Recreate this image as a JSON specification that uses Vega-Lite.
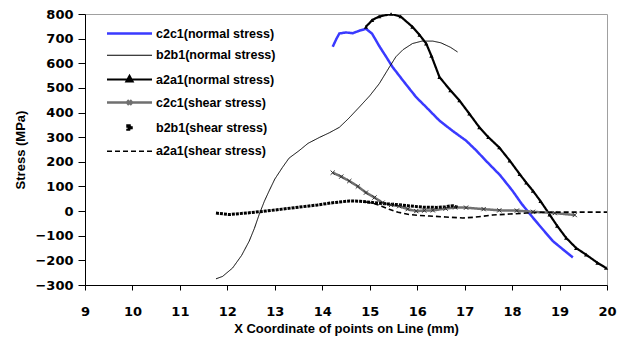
{
  "$schema": "https://vega.github.io/schema/vega-lite/v6.json",
  "width": 522,
  "height": 271,
  "autosize": "none",
  "padding": {"left": 85, "top": 14, "right": 10, "bottom": 60},
  "config": {
    "font": "Liberation Sans",
    "view": {"stroke": "#a0a0a0", "strokeWidth": 1},
    "axis": {
      "grid": false,
      "domainColor": "black",
      "tickColor": "black",
      "labelColor": "black",
      "titleColor": "black",
      "labelFont": "DejaVu Sans",
      "titleFont": "Liberation Sans",
      "labelFontWeight": "bold",
      "titleFontWeight": "bold",
      "labelFontSize": 13,
      "titleFontSize": 13
    },
    "legend": {
      "labelFont": "Liberation Sans",
      "labelFontWeight": "bold",
      "labelFontSize": 12.5,
      "labelColor": "black"
    }
  },
  "data": {
    "values": [
      {"s": "c2c1(normal stress)", "x": 14.22, "y": 667},
      {"s": "c2c1(normal stress)", "x": 14.3, "y": 700},
      {"s": "c2c1(normal stress)", "x": 14.36, "y": 721},
      {"s": "c2c1(normal stress)", "x": 14.5, "y": 725},
      {"s": "c2c1(normal stress)", "x": 14.64, "y": 722},
      {"s": "c2c1(normal stress)", "x": 14.78, "y": 732},
      {"s": "c2c1(normal stress)", "x": 14.92, "y": 740},
      {"s": "c2c1(normal stress)", "x": 15.05, "y": 720},
      {"s": "c2c1(normal stress)", "x": 15.2, "y": 670},
      {"s": "c2c1(normal stress)", "x": 15.35, "y": 625},
      {"s": "c2c1(normal stress)", "x": 15.48, "y": 585},
      {"s": "c2c1(normal stress)", "x": 15.7, "y": 530},
      {"s": "c2c1(normal stress)", "x": 15.98, "y": 462},
      {"s": "c2c1(normal stress)", "x": 16.2, "y": 420},
      {"s": "c2c1(normal stress)", "x": 16.47, "y": 367},
      {"s": "c2c1(normal stress)", "x": 16.75, "y": 325},
      {"s": "c2c1(normal stress)", "x": 17.03, "y": 286},
      {"s": "c2c1(normal stress)", "x": 17.25, "y": 245},
      {"s": "c2c1(normal stress)", "x": 17.45, "y": 204},
      {"s": "c2c1(normal stress)", "x": 17.75, "y": 145},
      {"s": "c2c1(normal stress)", "x": 18.01, "y": 82},
      {"s": "c2c1(normal stress)", "x": 18.2, "y": 30},
      {"s": "c2c1(normal stress)", "x": 18.44, "y": -27},
      {"s": "c2c1(normal stress)", "x": 18.65, "y": -75},
      {"s": "c2c1(normal stress)", "x": 18.86, "y": -122},
      {"s": "c2c1(normal stress)", "x": 19.1, "y": -160},
      {"s": "c2c1(normal stress)", "x": 19.28, "y": -188},

      {"s": "b2b1(normal stress)", "x": 11.76, "y": -275},
      {"s": "b2b1(normal stress)", "x": 11.9, "y": -265},
      {"s": "b2b1(normal stress)", "x": 12.11, "y": -231},
      {"s": "b2b1(normal stress)", "x": 12.3, "y": -180},
      {"s": "b2b1(normal stress)", "x": 12.46, "y": -122},
      {"s": "b2b1(normal stress)", "x": 12.57, "y": -70},
      {"s": "b2b1(normal stress)", "x": 12.67, "y": -14},
      {"s": "b2b1(normal stress)", "x": 12.78, "y": 40},
      {"s": "b2b1(normal stress)", "x": 12.88, "y": 82},
      {"s": "b2b1(normal stress)", "x": 13.0, "y": 130},
      {"s": "b2b1(normal stress)", "x": 13.16, "y": 177},
      {"s": "b2b1(normal stress)", "x": 13.3, "y": 215},
      {"s": "b2b1(normal stress)", "x": 13.51, "y": 245},
      {"s": "b2b1(normal stress)", "x": 13.7, "y": 275},
      {"s": "b2b1(normal stress)", "x": 13.94, "y": 299},
      {"s": "b2b1(normal stress)", "x": 14.15, "y": 318},
      {"s": "b2b1(normal stress)", "x": 14.36, "y": 340},
      {"s": "b2b1(normal stress)", "x": 14.55, "y": 375},
      {"s": "b2b1(normal stress)", "x": 14.78, "y": 422},
      {"s": "b2b1(normal stress)", "x": 15.0, "y": 468},
      {"s": "b2b1(normal stress)", "x": 15.2, "y": 517},
      {"s": "b2b1(normal stress)", "x": 15.4, "y": 580},
      {"s": "b2b1(normal stress)", "x": 15.55, "y": 626},
      {"s": "b2b1(normal stress)", "x": 15.7, "y": 655},
      {"s": "b2b1(normal stress)", "x": 15.9, "y": 680},
      {"s": "b2b1(normal stress)", "x": 16.1, "y": 690},
      {"s": "b2b1(normal stress)", "x": 16.33, "y": 690},
      {"s": "b2b1(normal stress)", "x": 16.5, "y": 683},
      {"s": "b2b1(normal stress)", "x": 16.7, "y": 665},
      {"s": "b2b1(normal stress)", "x": 16.85, "y": 646},

      {"s": "a2a1(normal stress)", "x": 14.92, "y": 748},
      {"s": "a2a1(normal stress)", "x": 15.05, "y": 775},
      {"s": "a2a1(normal stress)", "x": 15.2, "y": 790},
      {"s": "a2a1(normal stress)", "x": 15.45, "y": 800},
      {"s": "a2a1(normal stress)", "x": 15.65, "y": 790},
      {"s": "a2a1(normal stress)", "x": 15.9, "y": 748},
      {"s": "a2a1(normal stress)", "x": 16.05, "y": 715},
      {"s": "a2a1(normal stress)", "x": 16.19, "y": 680},
      {"s": "a2a1(normal stress)", "x": 16.3, "y": 630},
      {"s": "a2a1(normal stress)", "x": 16.47, "y": 544},
      {"s": "a2a1(normal stress)", "x": 16.7, "y": 490},
      {"s": "a2a1(normal stress)", "x": 16.89, "y": 449},
      {"s": "a2a1(normal stress)", "x": 17.1, "y": 395},
      {"s": "a2a1(normal stress)", "x": 17.31, "y": 340},
      {"s": "a2a1(normal stress)", "x": 17.5, "y": 300},
      {"s": "a2a1(normal stress)", "x": 17.73, "y": 258},
      {"s": "a2a1(normal stress)", "x": 17.95, "y": 205},
      {"s": "a2a1(normal stress)", "x": 18.16, "y": 150},
      {"s": "a2a1(normal stress)", "x": 18.3, "y": 115},
      {"s": "a2a1(normal stress)", "x": 18.44, "y": 82},
      {"s": "a2a1(normal stress)", "x": 18.6, "y": 40},
      {"s": "a2a1(normal stress)", "x": 18.79, "y": -14},
      {"s": "a2a1(normal stress)", "x": 18.95, "y": -60},
      {"s": "a2a1(normal stress)", "x": 19.14, "y": -109},
      {"s": "a2a1(normal stress)", "x": 19.35, "y": -150},
      {"s": "a2a1(normal stress)", "x": 19.56, "y": -177},
      {"s": "a2a1(normal stress)", "x": 19.8, "y": -210},
      {"s": "a2a1(normal stress)", "x": 19.98, "y": -231},

      {"s": "c2c1(shear stress)", "x": 14.22, "y": 156},
      {"s": "c2c1(shear stress)", "x": 14.4, "y": 140},
      {"s": "c2c1(shear stress)", "x": 14.57, "y": 122},
      {"s": "c2c1(shear stress)", "x": 14.75, "y": 100},
      {"s": "c2c1(shear stress)", "x": 14.92, "y": 75},
      {"s": "c2c1(shear stress)", "x": 15.1, "y": 55},
      {"s": "c2c1(shear stress)", "x": 15.27, "y": 34},
      {"s": "c2c1(shear stress)", "x": 15.45, "y": 25},
      {"s": "c2c1(shear stress)", "x": 15.62, "y": 20},
      {"s": "c2c1(shear stress)", "x": 15.8, "y": 8},
      {"s": "c2c1(shear stress)", "x": 15.98, "y": 0},
      {"s": "c2c1(shear stress)", "x": 16.15, "y": 2},
      {"s": "c2c1(shear stress)", "x": 16.33, "y": 3},
      {"s": "c2c1(shear stress)", "x": 16.6, "y": 10},
      {"s": "c2c1(shear stress)", "x": 16.8, "y": 15},
      {"s": "c2c1(shear stress)", "x": 17.03, "y": 14},
      {"s": "c2c1(shear stress)", "x": 17.4, "y": 8},
      {"s": "c2c1(shear stress)", "x": 17.73, "y": 3},
      {"s": "c2c1(shear stress)", "x": 18.1, "y": 2},
      {"s": "c2c1(shear stress)", "x": 18.44, "y": -3},
      {"s": "c2c1(shear stress)", "x": 18.9, "y": -8},
      {"s": "c2c1(shear stress)", "x": 19.32, "y": -16},

      {"s": "b2b1(shear stress)", "x": 11.76, "y": -8},
      {"s": "b2b1(shear stress)", "x": 12.04, "y": -14},
      {"s": "b2b1(shear stress)", "x": 12.4, "y": -8},
      {"s": "b2b1(shear stress)", "x": 12.81, "y": 0},
      {"s": "b2b1(shear stress)", "x": 13.15, "y": 8},
      {"s": "b2b1(shear stress)", "x": 13.51, "y": 16},
      {"s": "b2b1(shear stress)", "x": 13.9, "y": 25},
      {"s": "b2b1(shear stress)", "x": 14.22, "y": 34},
      {"s": "b2b1(shear stress)", "x": 14.57, "y": 41},
      {"s": "b2b1(shear stress)", "x": 14.8, "y": 40},
      {"s": "b2b1(shear stress)", "x": 15.06, "y": 35},
      {"s": "b2b1(shear stress)", "x": 15.3, "y": 30},
      {"s": "b2b1(shear stress)", "x": 15.55, "y": 27},
      {"s": "b2b1(shear stress)", "x": 15.8, "y": 22},
      {"s": "b2b1(shear stress)", "x": 16.12, "y": 16},
      {"s": "b2b1(shear stress)", "x": 16.4, "y": 15},
      {"s": "b2b1(shear stress)", "x": 16.6, "y": 18},
      {"s": "b2b1(shear stress)", "x": 16.75, "y": 22},
      {"s": "b2b1(shear stress)", "x": 16.85, "y": 15},

      {"s": "a2a1(shear stress)", "x": 14.92, "y": 37},
      {"s": "a2a1(shear stress)", "x": 15.1, "y": 30},
      {"s": "a2a1(shear stress)", "x": 15.25, "y": 20},
      {"s": "a2a1(shear stress)", "x": 15.41, "y": 7},
      {"s": "a2a1(shear stress)", "x": 15.6, "y": -5},
      {"s": "a2a1(shear stress)", "x": 15.84, "y": -14},
      {"s": "a2a1(shear stress)", "x": 16.05, "y": -18},
      {"s": "a2a1(shear stress)", "x": 16.26, "y": -20},
      {"s": "a2a1(shear stress)", "x": 16.6, "y": -24},
      {"s": "a2a1(shear stress)", "x": 16.96, "y": -28},
      {"s": "a2a1(shear stress)", "x": 17.2, "y": -25},
      {"s": "a2a1(shear stress)", "x": 17.59, "y": -16},
      {"s": "a2a1(shear stress)", "x": 17.95, "y": -12},
      {"s": "a2a1(shear stress)", "x": 18.3, "y": -8},
      {"s": "a2a1(shear stress)", "x": 18.6, "y": -5},
      {"s": "a2a1(shear stress)", "x": 19.0, "y": -4},
      {"s": "a2a1(shear stress)", "x": 19.5, "y": -4},
      {"s": "a2a1(shear stress)", "x": 20.0, "y": -4}
    ]
  },
  "encoding": {
    "x": {
      "field": "x", "type": "quantitative",
      "title": "X Coordinate of points on Line (mm)",
      "scale": {"domain": [9, 20], "nice": false, "zero": false},
      "axis": {"values": [9,10,11,12,13,14,15,16,17,18,19,20], "tickSize": 5, "labelPadding": 15, "titlePadding": 4, "labelFlush": false}
    },
    "y": {
      "field": "y", "type": "quantitative",
      "title": "Stress (MPa)",
      "scale": {"domain": [-300, 800], "nice": false, "zero": false},
      "axis": {"values": [-300,-200,-100,0,100,200,300,400,500,600,700,800], "tickSize": 7, "labelPadding": 5, "titlePadding": 7}
    }
  },
  "layer": [
    {
      "mark": {"type": "line", "clip": true},
      "encoding": {
        "detail": {"field": "s"},
        "color": {
          "field": "s", "type": "nominal",
          "scale": {
            "domain": ["c2c1(normal stress)", "b2b1(normal stress)", "a2a1(normal stress)", "c2c1(shear stress)", "b2b1(shear stress)", "a2a1(shear stress)"],
            "range": ["#3a3aff", "#000000", "#000000", "#707070", "#000000", "#000000"]
          },
          "legend": {
            "title": null,
            "orient": "none",
            "legendX": 38,
            "legendY": 13,
            "padding": 0,
            "symbolType": "stroke",
            "symbolSize": 100,
            "labelOffset": 20,
            "rowPadding": 9,
            "encode": {
              "symbols": {
                "update": {
                  "shape": {"signal": "datum.value === 'a2a1(normal stress)' ? 'M-4.5,0H4.5M0,-0.7L0.6,0.4L-0.6,0.4Z' : datum.value === 'c2c1(shear stress)' ? 'M-4.5,0H4.5M-0.45,-0.45L0.45,0.45M0.45,-0.45L-0.45,0.45' : datum.value === 'b2b1(shear stress)' ? 'M-0.35,-0.35H0.35V0.35H-0.35Z' : 'M-4.5,0H4.5'"},
                  "fill": {"signal": "datum.value === 'a2a1(normal stress)' || datum.value === 'b2b1(shear stress)' ? 'black' : 'transparent'"},
                  "strokeWidth": {"signal": "datum.value === 'c2c1(normal stress)' ? 3 : datum.value === 'c2c1(shear stress)' ? 1.5 : datum.value === 'a2a1(shear stress)' ? 2 : datum.value === 'b2b1(shear stress)' ? 0 : 1"},
                  "strokeDash": {"signal": "datum.value === 'a2a1(shear stress)' ? [4,3.5] : [1,0]"}
                }
              }
            }
          }
        },
        "strokeDash": {
          "field": "s", "type": "nominal",
          "scale": {
            "domain": ["c2c1(normal stress)", "b2b1(normal stress)", "a2a1(normal stress)", "c2c1(shear stress)", "b2b1(shear stress)", "a2a1(shear stress)"],
            "range": [[1,0], [1,0], [1,0], [1,0], [3,1], [5,3]]
          },
          "legend": null
        },
        "strokeWidth": {
          "field": "s", "type": "ordinal",
          "scale": {
            "type": "ordinal",
            "domain": ["c2c1(normal stress)", "b2b1(normal stress)", "a2a1(normal stress)", "c2c1(shear stress)", "b2b1(shear stress)", "a2a1(shear stress)"],
            "range": [2.5, 1, 2.2, 2.5, 3, 1.6]
          },
          "legend": null
        }
      }
    },
    {
      "transform": [{"filter": "datum.s === 'a2a1(normal stress)'"}],
      "mark": {"type": "point", "shape": "triangle-up", "filled": true, "color": "black", "size": 18, "opacity": 1}
    },
    {
      "transform": [{"filter": "datum.s === 'c2c1(shear stress)'"}],
      "mark": {"type": "point", "shape": "M-1,-1L1,1M1,-1L-1,1", "filled": false, "color": "#303030", "size": 18, "strokeWidth": 1, "opacity": 1}
    }
  ]
}
